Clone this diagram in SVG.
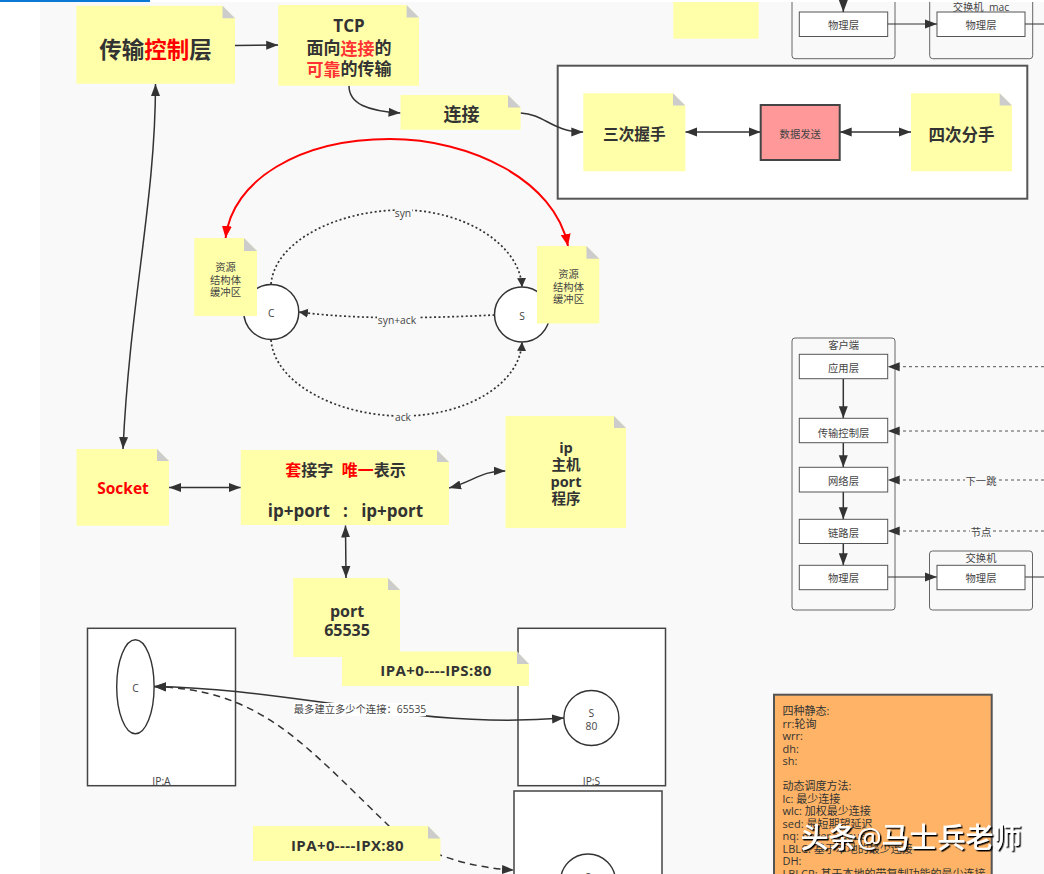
<svg xmlns="http://www.w3.org/2000/svg" width="1044" height="874" viewBox="0 0 1044 874">
<style>
text{font-family:"Open Sans","Noto Sans CJK SC",sans-serif;fill:#333;text-anchor:middle;dominant-baseline:central}
.b{font-weight:700}
.s{font-size:10.3px;fill:#444}
.r{fill:#f00}
.r2{fill:#ff3333}
.note{fill:#ffffaa}
.fold{fill:#ccc}
.box{fill:#fff;stroke:#444;stroke-width:1.5}
.frame{fill:#f9f9f9;stroke:#666;stroke-width:1}
.layer{fill:#fff;stroke:#555;stroke-width:1}
.c{fill:none;stroke:#333;stroke-width:1.5}
.d1{stroke-dasharray:2 2.5;stroke-width:1.7}
.d2{stroke-dasharray:7 5}
.d3{stroke-dasharray:3 3;stroke-width:1;stroke:#555}
.lb{fill:#f9f9f9}
.o{text-anchor:start}
</style>
<defs>
<marker id="a" markerUnits="userSpaceOnUse" markerWidth="13" markerHeight="10" refX="12" refY="5" orient="auto-start-reverse"><path d="M0,.5L12,5L0,9.5z" fill="#333"/></marker>
<marker id="t" markerUnits="userSpaceOnUse" markerWidth="10" markerHeight="10" refX="9" refY="5" orient="auto-start-reverse"><path d="M0,.5L9,5L0,9.5z" fill="#333"/></marker>
<marker id="m" markerUnits="userSpaceOnUse" markerWidth="13" markerHeight="12" refX="12" refY="6" orient="auto-start-reverse"><path d="M0,1L12,6L0,11z" fill="#f00"/></marker>
<filter id="sh" x="-5%" y="-20%" width="110%" height="140%"><feDropShadow dx="1.5" dy="1.5" stdDeviation="0.4" flood-color="#000"/></filter>
</defs>

<rect width="1044" height="874" fill="#fff"/>
<rect x="40" y="2" width="1004" height="872" fill="#f9f9f9"/>
<rect width="150" height="2" fill="#0a78d4"/>

<g id="top-yellow"><rect class="note" x="673.300" y="2" width="85.400" height="36.700"/></g>

<g id="top-client">
<path class="frame" d="M792,2V55.700a3,3 0 0 0 3,3H892a3,3 0 0 0 3,-3V2"/>
<rect class="layer" x="799.300" y="12" width="88.400" height="24.500"/>
<text class="s" x="843.500" y="24.500">物理层</text>
</g>
<g id="top-switch">
<path class="frame" d="M929.700,2V55.700a3,3 0 0 0 3,3H1029.700a3,3 0 0 0 3,-3V2"/>
<text class="s" x="981" y="6.500" xml:space="preserve">交换机  mac</text>
<rect class="layer" x="937" y="12" width="88" height="24.500"/>
<text class="s" x="981" y="24.500">物理层</text>
</g>

<g id="handshake-box"><rect x="557.700" y="65.700" width="469.600" height="133" fill="#fff" stroke="#555" stroke-width="2"/></g>
<g id="box-a"><rect class="box" x="87.500" y="628.300" width="148" height="157.400"/><text class="s" x="161.500" y="781">IP:A</text></g>
<g id="box-s"><rect class="box" x="518" y="628.300" width="147.500" height="157.400"/><text class="s" x="591.500" y="781">IP:S</text></g>
<g id="box-x"><rect class="box" x="514" y="791" width="148" height="100"/></g>
<g id="client-c-ellipse"><ellipse cx="135.400" cy="686.700" rx="18.700" ry="47" fill="#fff" stroke="#333" stroke-width="1.400"/><text class="s" x="135.400" y="688">C</text></g>
<g id="server-s80"><circle cx="591.400" cy="718" r="27.500" fill="#fff" stroke="#333" stroke-width="1.400"/><text class="s" x="591.400" y="713">S</text><text class="s" x="591.400" y="726">80</text></g>
<g id="server-x"><circle cx="588" cy="881.500" r="27.500" fill="#fff" stroke="#333" stroke-width="1.400"/><text class="s" x="588" y="877">S</text></g>
<g id="circle-c"><circle cx="271.300" cy="312" r="27.500" fill="#fff" stroke="#333" stroke-width="1.500"/><text class="s" x="271.300" y="313">C</text></g>
<g id="circle-s"><circle cx="522" cy="314.500" r="27.500" fill="#fff" stroke="#333" stroke-width="1.500"/><text class="s" x="522" y="316">S</text></g>

<g id="client-frame"><rect class="frame" x="792" y="338" width="103" height="272" rx="3"/><text class="s" x="843.700" y="345">客户端</text></g>
<g id="switch-frame"><rect class="frame" x="929.500" y="551" width="103" height="59" rx="3"/><text class="s" x="981" y="558">交换机</text></g>

<g id="connectors">
<path class="c" marker-end="url(#a)" d="M235,45.500L278.200,45"/>
<path class="c" marker-end="url(#a)" d="M349,85.700C349,104 368,111 400.500,113"/>
<path class="c" marker-end="url(#a)" d="M520.600,113C545,114 552,132 583.300,132"/>
<path class="c" marker-start="url(#a)" marker-end="url(#a)" d="M685.300,132H760.700"/>
<path class="c" marker-start="url(#a)" marker-end="url(#a)" d="M839.700,132H911"/>
<path class="c" marker-start="url(#a)" marker-end="url(#a)" d="M155.500,84C155.500,200 130,300 123,449"/>
<path class="c" marker-start="url(#a)" marker-end="url(#a)" d="M169,487.500H240.800"/>
<path class="c" marker-start="url(#a)" marker-end="url(#a)" d="M449,488C475,481 480,471 505.500,471"/>
<path class="c" marker-start="url(#a)" marker-end="url(#a)" d="M345.500,525.500L346,578"/>
<path fill="none" stroke="#f00" stroke-width="2" marker-start="url(#m)" marker-end="url(#m)" d="M225.600,238C232,180 300,139 390,139C470,139 555,180 568,246"/>
<path class="c d1" marker-end="url(#t)" d="M271,284C275,240 340,210 402,210C465,210 520,245 522,287"/>
<path class="c d1" marker-end="url(#t)" d="M494.500,315C430,318 360,320 299,312"/>
<path class="c d1" marker-end="url(#t)" d="M271,340C275,385 340,416 402,416C465,416 520,385 522,342"/>
<rect class="lb" x="395" y="208" width="17" height="11"/><text class="s" x="403" y="213">syn</text>
<rect class="lb" x="377" y="314" width="41" height="12"/><text class="s" x="397" y="320">syn+ack</text>
<rect class="lb" x="395" y="412" width="17" height="11"/><text class="s" x="403" y="417">ack</text>
<path class="c" marker-end="url(#a)" d="M843.300,378.700V418.300"/>
<path class="c" marker-end="url(#a)" d="M843.300,442.700V467.300"/>
<path class="c" marker-end="url(#a)" d="M843.300,492V519.300"/>
<path class="c" marker-end="url(#a)" d="M843.300,543.500V565.300"/>
<path class="c" marker-end="url(#a)" d="M843.300,0V12"/>
<path class="c d3" marker-end="url(#a)" d="M1044,366.700H887.700"/>
<path class="c d3" marker-end="url(#a)" d="M1044,431H887.700"/>
<path class="c d3" marker-end="url(#a)" d="M1044,480H887.700"/>
<path class="c d3" marker-end="url(#a)" d="M1044,531H887.700"/>
<rect class="lb" x="965" y="475" width="32" height="12"/><text class="s" x="981" y="481">下一跳</text>
<rect class="lb" x="970" y="526" width="22" height="12"/><text class="s" x="981" y="532">节点</text>
<path class="c" style="stroke-width:1" marker-end="url(#a)" d="M887.700,577H937"/>
<path class="c" style="stroke-width:1" d="M1025,577H1044"/>
<path class="c" style="stroke-width:1" marker-end="url(#a)" d="M887.700,24H937"/>
<path class="c" style="stroke-width:1" d="M1025,24H1044"/>
<path class="c" marker-start="url(#a)" marker-end="url(#a)" d="M154,686.500C235,688 300,700 360,707C430,719 500,723 564,718"/>
<path class="c d2" marker-start="url(#a)" marker-end="url(#a)" d="M154,686.500C260,690 300,740 389,826C420,853 470,868 514,870"/>
<rect x="293" y="703" width="133" height="13" fill="#fff"/><text class="s" x="360" y="709">最多建立多少个连接：65535</text>
</g>

<g id="layer-app"><rect class="layer" x="799.300" y="354.300" width="88.400" height="24.400"/><text class="s" x="843.500" y="367.500">应用层</text></g>
<g id="layer-transport"><rect class="layer" x="799.300" y="418.300" width="88.400" height="24.400"/><text class="s" x="843.500" y="432.500">传输控制层</text></g>
<g id="layer-network"><rect class="layer" x="799.300" y="467.300" width="88.400" height="24.700"/><text class="s" x="843.500" y="481">网络层</text></g>
<g id="layer-link"><rect class="layer" x="799.300" y="519.300" width="88.400" height="24.200"/><text class="s" x="843.500" y="532.500">链路层</text></g>
<g id="layer-phys"><rect class="layer" x="799.300" y="565.300" width="88.400" height="24.400"/><text class="s" x="843.500" y="578">物理层</text></g>
<g id="switch-phys"><rect class="layer" x="937" y="565.300" width="88" height="24.400"/><text class="s" x="981" y="578">物理层</text></g>

<g id="note-transport">
<path class="note" d="M76.400,5.700H222.500L235,18.200V83.700H76.400z"/><path class="fold" d="M222.500,5.700L235,18.200H222.500z"/>
<text class="b" x="155.500" y="49" font-size="22.500">传输<tspan class="r">控制</tspan>层</text>
</g>
<g id="note-tcp">
<path class="note" d="M278.200,5H406.600L419,17.500V85.700H278.200z"/><path class="fold" d="M406.600,5L419,17.500H406.600z"/>
<text class="b" x="349" y="25" font-size="17">TCP</text>
<text class="b" x="349" y="47.500" font-size="17">面向<tspan class="r2">连接</tspan>的</text>
<text class="b" x="349" y="68.500" font-size="17"><tspan class="r2">可靠</tspan>的传输</text>
</g>
<g id="note-conn">
<path class="note" d="M400.500,95H508L520.600,107.600V129.700H400.500z"/><path class="fold" d="M508,95L520.600,107.600H508z"/>
<text class="b" x="461.500" y="114" font-size="18">连接</text>
</g>
<g id="note-syn">
<path class="note" d="M583.300,93.300H673L685.300,105.600V171.300H583.300z"/><path class="fold" d="M673,93.300L685.300,105.600H673z"/>
<text class="b" x="634.300" y="134" font-size="15.600">三次握手</text>
</g>
<g id="data-send"><rect x="760.700" y="105" width="79" height="55" fill="#ff9999" stroke="#444" stroke-width="2"/><text class="s" x="800.200" y="133.500">数据发送</text></g>
<g id="note-fin">
<path class="note" d="M911,93.300H999.700L1012,105.600V171.300H911z"/><path class="fold" d="M999.700,93.300L1012,105.600H999.700z"/>
<text class="b" x="961.500" y="134.500" font-size="16.500">四次分手</text>
</g>
<g id="note-res-c">
<path class="note" d="M194.300,238H244L257,251V316H194.300z"/><path class="fold" d="M244,238L257,251H244z"/>
<text class="s" x="225.500" y="267">资源</text><text class="s" x="225.500" y="279.500">结构体</text><text class="s" x="225.500" y="292">缓冲区</text>
</g>
<g id="note-res-s">
<path class="note" d="M537,246H586.500L599.300,258.800V323.600H537z"/><path class="fold" d="M586.500,246L599.300,258.800H586.500z"/>
<text class="s" x="568.500" y="274">资源</text><text class="s" x="568.500" y="286.500">结构体</text><text class="s" x="568.500" y="299">缓冲区</text>
</g>
<g id="note-socket">
<path class="note" d="M76.500,449H157L169,461V525.700H76.500z"/><path class="fold" d="M157,449L169,461H157z"/>
<text class="b r" x="123" y="488" font-size="15.500">Socket</text>
</g>
<g id="note-sockaddr">
<path class="note" d="M240.800,450H437L449,462V525H240.800z"/><path class="fold" d="M437,450L449,462H437z"/>
<text class="b" x="345.500" y="470" font-size="16" xml:space="preserve"><tspan class="r">套</tspan>接字  <tspan class="r">唯一</tspan>表示</text>
<text class="b" x="345.500" y="510" font-size="17" xml:space="preserve">ip+port   :   ip+port</text>
</g>
<g id="note-ip">
<path class="note" d="M505.500,416H614L626,428V528H505.500z"/><path class="fold" d="M614,416L626,428H614z"/>
<text class="b" x="566" y="447" font-size="14.500">ip</text><text class="b" x="566" y="464" font-size="14.500">主机</text><text class="b" x="566" y="481" font-size="14.500">port</text><text class="b" x="566" y="498" font-size="14.500">程序</text>
</g>
<g id="note-port">
<path class="note" d="M293.200,578H388L400,590V657H293.200z"/><path class="fold" d="M388,578L400,590H388z"/>
<text class="b" x="347" y="611" font-size="16">port</text><text class="b" x="347" y="630" font-size="16">65535</text>
</g>
<g id="note-ips">
<path class="note" d="M342,651.500H517L529,664V686H342z"/><path class="fold" d="M517,651.500L529,664H517z"/>
<text class="b" x="436" y="670" font-size="15" letter-spacing=".4">IPA+0----IPS:80</text>
</g>
<g id="note-ipx">
<path class="note" d="M253,826H428L440.400,838.500V861H253z"/><path class="fold" d="M428,826L440.400,838.500H428z"/>
<text class="b" x="347.500" y="845" font-size="15" letter-spacing=".4">IPA+0----IPX:80</text>
</g>
<g id="note-schedule">
<rect x="774" y="694.700" width="217.700" height="190" fill="#ffb366" stroke="#555" stroke-width="2"/>
<g font-size="11">
<text class="o" x="782.500" y="710.700">四种静态:</text>
<text class="o" x="782.500" y="723.200">rr:轮询</text>
<text class="o" x="782.500" y="735.700">wrr:</text>
<text class="o" x="782.500" y="748.200">dh:</text>
<text class="o" x="782.500" y="760.800">sh:</text>
<text class="o" x="782.500" y="785.800">动态调度方法:</text>
<text class="o" x="782.500" y="798.300">lc: 最少连接</text>
<text class="o" x="782.500" y="810.800">wlc: 加权最少连接</text>
<text class="o" x="782.500" y="823.400">sed: 最短期望延迟</text>
<text class="o" x="782.500" y="835.900">nq: never queue</text>
<text class="o" x="782.500" y="848.400">LBLC: 基于本地的最少连接</text>
<text class="o" x="782.500" y="860.900">DH:</text>
<text class="o" x="782.500" y="873.400">LBLCR: 基于本地的带复制功能的最少连接</text>
</g>
</g>
<text x="911" y="837" font-size="28" filter="url(#sh)" style="fill:#fff;font-weight:500">头条@马士兵老师</text>
</svg>
